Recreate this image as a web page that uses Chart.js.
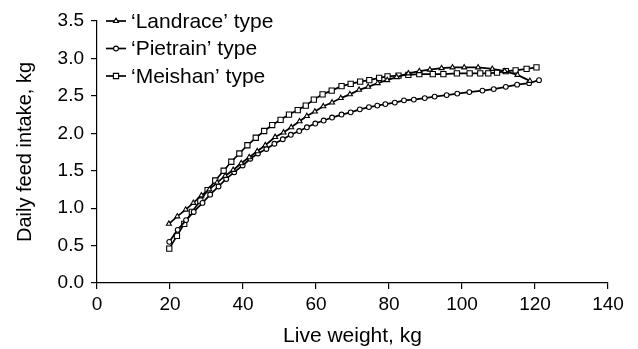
<!DOCTYPE html>
<html>
<head>
<meta charset="utf-8">
<title>Daily feed intake</title>
<script src="https://cdn.jsdelivr.net/npm/chart.js@4/dist/chart.umd.min.js"></script>
<style>
    html, body { margin: 0; padding: 0; background: #fff; }
    #wrap { width: 638px; height: 349px; }
</style>
</head>
<body>
<div id="wrap"><canvas id="feedChart" width="638" height="349"></canvas></div>
<script>
// Data (live weight kg -> daily feed intake kg)
const landraceX = [19.7, 22.0, 24.3, 26.4, 28.6, 30.8, 32.9, 35.1, 37.3, 39.5, 41.7, 43.9, 46.1, 48.8, 51.1, 53.2, 55.5, 57.5, 59.7, 62.0, 64.4, 66.8, 69.3, 71.8, 74.3, 76.9, 79.5, 82.1, 85.3, 88.3, 91.2, 94.4, 97.4, 100.6, 104.4, 108.3, 111.7, 115.2, 118.6];
const landraceY = [0.79, 0.89, 0.98, 1.07, 1.17, 1.25, 1.34, 1.43, 1.51, 1.60, 1.68, 1.76, 1.84, 1.95, 2.01, 2.08, 2.16, 2.23, 2.29, 2.36, 2.41, 2.47, 2.52, 2.58, 2.62, 2.67, 2.71, 2.75, 2.80, 2.83, 2.85, 2.87, 2.88, 2.88, 2.88, 2.86, 2.83, 2.78, 2.70];

const pietrainX = [19.8, 22.1, 24.4, 26.5, 28.9, 31.0, 33.3, 35.4, 37.6, 39.9, 42.0, 44.1, 46.4, 48.6, 50.9, 53.1, 55.4, 57.5, 59.8, 62.1, 64.4, 67.0, 69.5, 72.0, 74.5, 76.8, 79.0, 81.6, 84.1, 86.8, 89.8, 92.5, 95.8, 98.7, 102.0, 105.6, 108.7, 112.0, 115.1, 118.4, 121.1];
const pietrainY = [0.55, 0.71, 0.84, 0.95, 1.07, 1.18, 1.29, 1.39, 1.48, 1.57, 1.66, 1.73, 1.79, 1.86, 1.92, 1.98, 2.03, 2.08, 2.13, 2.17, 2.21, 2.25, 2.28, 2.32, 2.35, 2.37, 2.39, 2.41, 2.44, 2.45, 2.47, 2.49, 2.51, 2.53, 2.55, 2.57, 2.59, 2.62, 2.65, 2.67, 2.71];

const meishanX = [19.8, 21.9, 23.9, 26.0, 28.3, 30.3, 32.4, 34.7, 36.8, 39.0, 41.2, 43.5, 45.8, 48.0, 50.3, 52.6, 55.0, 57.2, 59.4, 61.8, 64.3, 67.0, 69.5, 72.1, 74.6, 77.3, 79.6, 82.6, 85.3, 88.3, 92.0, 94.9, 98.6, 102.1, 105.0, 107.2, 109.6, 112.0, 114.7, 117.7, 120.4];
const meishanY = [0.46, 0.63, 0.79, 0.95, 1.10, 1.24, 1.37, 1.50, 1.62, 1.73, 1.84, 1.94, 2.03, 2.11, 2.18, 2.25, 2.31, 2.37, 2.45, 2.52, 2.57, 2.63, 2.66, 2.69, 2.71, 2.74, 2.76, 2.77, 2.78, 2.79, 2.79, 2.79, 2.80, 2.80, 2.80, 2.80, 2.81, 2.83, 2.84, 2.86, 2.88];

const seriesLabels = ['\u2018Landrace\u2019 type', '\u2018Pietrain\u2019 type', '\u2018Meishan\u2019 type'];
const xTicks = [0, 20, 40, 60, 80, 100, 120, 140];
const yTicks = [0.0, 0.5, 1.0, 1.5, 2.0, 2.5, 3.0, 3.5];

const FONT = "'Liberation Sans', Arial, Helvetica, sans-serif";

function toPoints(xs, ys) {
    return xs.map((x, i) => ({ x: x, y: ys[i] }));
}

function makeSet(label, xs, ys, style, radius) {
    return {
        label: label,
        data: toPoints(xs, ys),
        borderColor: '#000',
        borderWidth: 1.7,
        backgroundColor: '#fff',
        pointStyle: style,
        pointRadius: radius,
        pointBorderWidth: 1.1,
        pointBorderColor: '#000',
        pointBackgroundColor: '#fff',
        tension: 0,
        fill: false
    };
}

// Legend drawn inside the plot, top-left, with line + marker samples
const innerLegend = {
    id: 'innerLegend',
    afterDraw(chart) {
        const ctx = chart.ctx;
        ctx.save();
        chart.data.datasets.forEach((ds, i) => {
            const y = 21 + i * 27.5;
            ctx.strokeStyle = '#000';
            ctx.lineWidth = 1.7;
            ctx.beginPath();
            ctx.moveTo(106, y);
            ctx.lineTo(126, y);
            ctx.stroke();
            ctx.fillStyle = '#fff';
            ctx.lineWidth = 1.1;
            Chart.helpers.drawPoint(ctx, {
                pointStyle: ds.pointStyle,
                radius: ds.pointRadius,
                borderWidth: 1.1,
                rotation: 0
            }, 116, y);
            ctx.fillStyle = '#000';
            ctx.font = '21px ' + FONT;
            ctx.textBaseline = 'middle';
            ctx.textAlign = 'left';
            ctx.fillText(ds.label, 131, y + 1);
        });
        ctx.restore();
    }
};

const axisLine = {
    display: true,
    drawOnChartArea: false,
    drawTicks: true,
    tickLength: 6,
    color: '#000',
    tickColor: '#000',
    lineWidth: 1.2
};

new Chart(document.getElementById('feedChart'), {
    type: 'line',
    data: {
        datasets: [
            makeSet(seriesLabels[0], landraceX, landraceY, 'triangle', 2.9),
            makeSet(seriesLabels[1], pietrainX, pietrainY, 'circle', 2.4),
            makeSet(seriesLabels[2], meishanX, meishanY, 'rect', 3.7)
        ]
    },
    options: {
        responsive: false,
        animation: false,
        layout: { padding: { top: 21, right: 30, left: 0, bottom: 0 } },
        plugins: {
            legend: { display: false },
            tooltip: { enabled: false }
        },
        scales: {
            x: {
                type: 'linear',
                min: 0,
                max: 140,
                afterBuildTicks: (scale) => { scale.ticks = xTicks.map(v => ({ value: v })); },
                afterFit: (scale) => { scale.height = 66; },
                grid: axisLine,
                border: { display: true, color: '#000', width: 1.2 },
                ticks: {
                    color: '#000',
                    font: { family: FONT, size: 19 },
                    padding: 4,
                    maxRotation: 0,
                    callback: (v) => String(v)
                },
                title: {
                    display: true,
                    text: 'Live weight, kg',
                    color: '#000',
                    font: { family: FONT, size: 21 },
                    padding: { top: 12, bottom: 0 }
                }
            },
            y: {
                type: 'linear',
                min: 0,
                max: 3.5,
                afterBuildTicks: (scale) => { scale.ticks = yTicks.map(v => ({ value: v })); },
                afterFit: (scale) => { scale.width = 97; },
                grid: axisLine,
                border: { display: true, color: '#000', width: 1.2 },
                ticks: {
                    color: '#000',
                    font: { family: FONT, size: 19 },
                    padding: 7,
                    callback: (v) => Number(v).toFixed(1)
                },
                title: {
                    display: true,
                    text: 'Daily feed intake, kg',
                    color: '#000',
                    font: { family: FONT, size: 20 },
                    padding: { top: 13, bottom: 0 }
                }
            }
        }
    },
    plugins: [innerLegend]
});
</script>
</body>
</html>
